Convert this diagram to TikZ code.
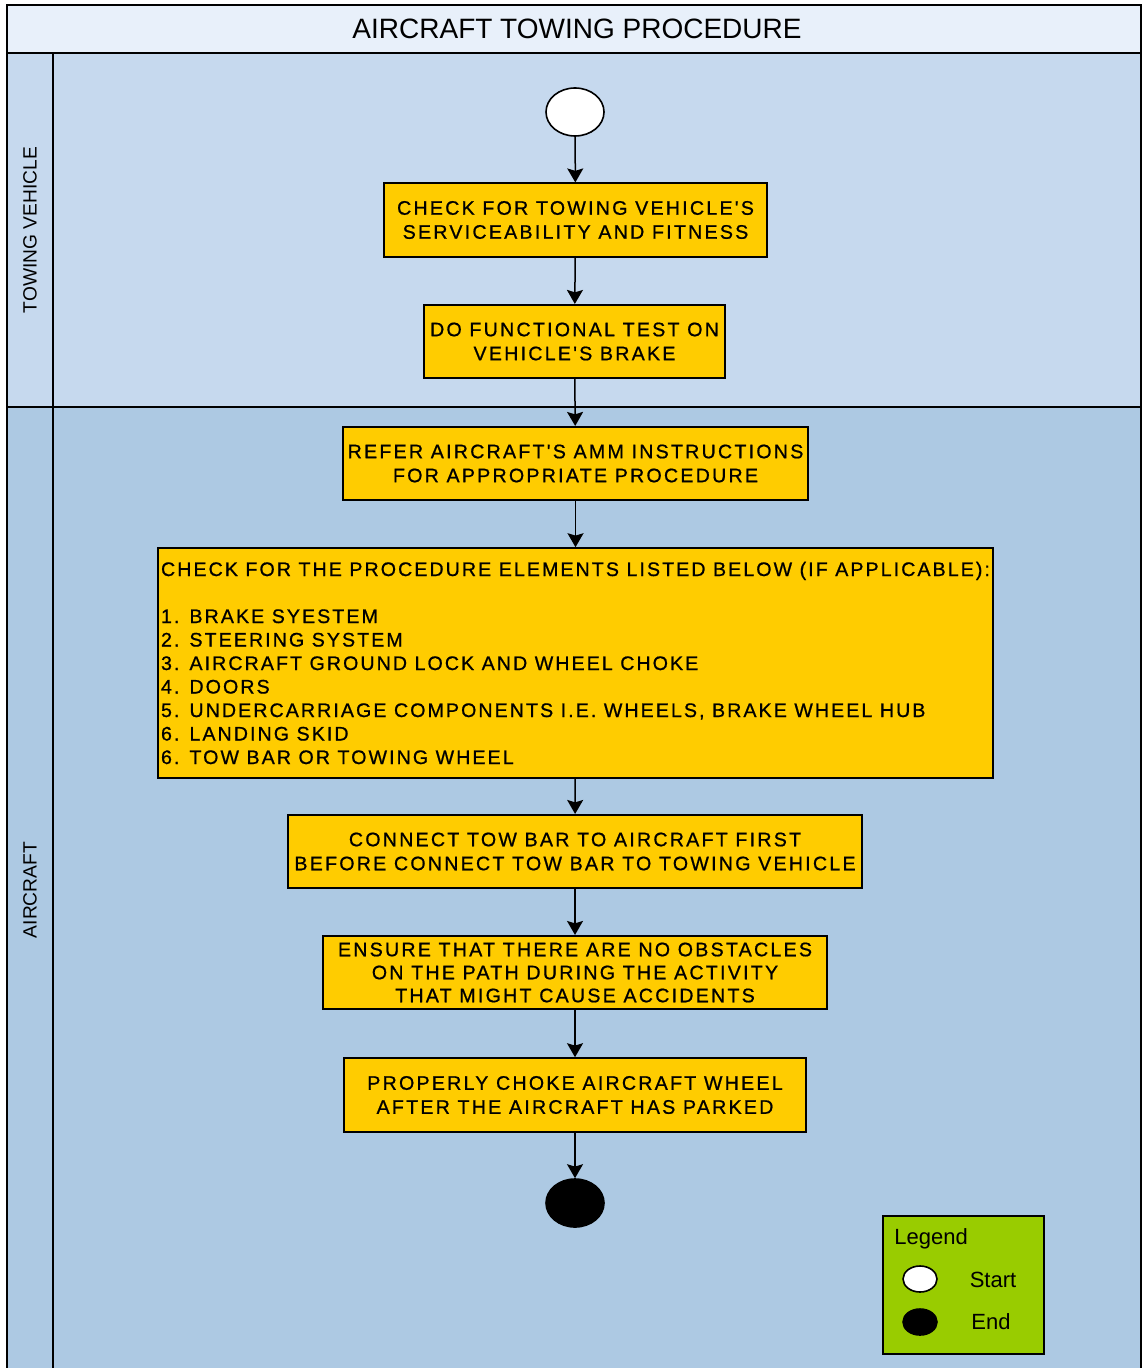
\documentclass[tikz,border=0pt]{standalone}
\usepackage{fontspec}
\setmainfont{Liberation Sans}
\newfontfamily\boxfont[LetterSpace=11.5,FakeBold=0.8]{Liberation Sans}
\newfontfamily\listfont[LetterSpace=10.6,FakeBold=0.8]{Liberation Sans}
\usetikzlibrary{arrows.meta,shapes.geometric}
\definecolor{titlebg}{HTML}{E8F0FA}
\definecolor{lanetop}{HTML}{C6D9EE}
\definecolor{lanebot}{HTML}{ADC9E3}
\definecolor{boxfill}{HTML}{FFCC00}
\definecolor{legendfill}{HTML}{99CC00}
\begin{document}
\begin{tikzpicture}[x=0.5pt,y=-0.5pt,
  frameline/.style={draw=black, line width=0.8pt},
  stepbox/.style={draw=black, line width=0.8pt, fill=boxfill,
    font=\boxfont\fontsize{9.8}{12}\selectfont, align=center,
    inner sep=0pt, minimum height=36.75pt},
  terminal/.style={ellipse, draw=black, line width=0.8pt,
    minimum width=29pt, minimum height=24pt, inner sep=0pt},
  legendmark/.style={ellipse, draw=black, line width=0.8pt,
    minimum width=17pt, minimum height=13pt, inner sep=0pt},
  flow/.style={-{Stealth[length=7pt,width=8pt,inset=1.2pt]}, line width=0.75pt},
  lanelabel/.style={rotate=90, font=\fontsize{9.6}{11}\selectfont},
  legendtext/.style={font=\fontsize{11}{13}\selectfont, inner sep=0pt},
]
\useasboundingbox (0,0) rectangle (1143,1368);

% pool background: title band and two swimlanes
\fill[white] (0,0) rectangle (1143,1368);
\fill[titlebg] (7,5) rectangle (1141,53);
\fill[lanetop] (7,53) rectangle (1141,407);
\fill[lanebot] (7,407) rectangle (1141,1368);
\draw[frameline] (7,1368) -- (7,5) -- (1141,5) -- (1141,1368);
\draw[frameline] (7,53) -- (1141,53);
\draw[frameline] (7,407) -- (1141,407);
\draw[frameline] (53,53) -- (53,1368);

\node[font=\fontsize{14}{16}\selectfont] (title) at (577,29) {AIRCRAFT TOWING PROCEDURE};
\node[lanelabel] (lanevehicle) at (30,230) {TOWING VEHICLE};
\node[lanelabel] (laneaircraft) at (30,890) {AIRCRAFT};

% activity flow
\node[terminal, fill=white] (start) at (575,112) {};
\node[stepbox, minimum width=191.5pt] (b1) at (575.5,220)
  {CHECK FOR TOWING VEHICLE'S\\SERVICEABILITY AND FITNESS};
\node[stepbox, minimum width=150.5pt] (b2) at (574.5,341.5)
  {DO FUNCTIONAL TEST ON\\VEHICLE'S BRAKE};
\node[stepbox, minimum width=232.5pt] (b3) at (575.5,463.5)
  {REFER AIRCRAFT'S AMM INSTRUCTIONS\\FOR APPROPRIATE PROCEDURE};
\node[stepbox, minimum width=417.5pt, minimum height=115pt, align=left,
  font=\listfont\fontsize{9.8}{11.75}\selectfont] (b4) at (575.5,663)
  {CHECK FOR THE PROCEDURE ELEMENTS LISTED BELOW (IF APPLICABLE):\\[11.75pt]
   1. BRAKE SYESTEM\\
   2. STEERING SYSTEM\\
   3. AIRCRAFT GROUND LOCK AND WHEEL CHOKE\\
   4. DOORS\\
   5. UNDERCARRIAGE COMPONENTS I.E. WHEELS, BRAKE WHEEL HUB\\
   6. LANDING SKID\\
   6. TOW BAR OR TOWING WHEEL};
\node[stepbox, minimum width=287pt] (b5) at (575,851.5)
  {CONNECT TOW BAR TO AIRCRAFT FIRST\\BEFORE CONNECT TOW BAR TO TOWING VEHICLE};
\node[stepbox, minimum width=252pt, font=\boxfont\fontsize{9.8}{11.5}\selectfont] (b6) at (575,972.5)
  {ENSURE THAT THERE ARE NO OBSTACLES\\ON THE PATH DURING THE ACTIVITY\\THAT MIGHT CAUSE ACCIDENTS};
\node[stepbox, minimum width=231pt, minimum height=37pt] (b7) at (575,1095)
  {PROPERLY CHOKE AIRCRAFT WHEEL\\AFTER THE AIRCRAFT HAS PARKED};
\node[terminal, fill=black] (finish) at (575,1203) {};

\draw[flow] (start) -- (b1);
\draw[flow] (b1) -- (b2);
\draw[flow] (b2) -- (b3);
\draw[flow] (b3) -- (b4);
\draw[flow] (b4) -- (b5);
\draw[flow] (b5) -- (b6);
\draw[flow] (b6) -- (b7);
\draw[flow] (b7) -- (finish);

% legend
\node[draw=black, line width=0.8pt, fill=legendfill, minimum width=80.5pt,
  minimum height=69pt, inner sep=0pt] (legend) at (963.5,1285) {};
\node[legendtext, anchor=west] (legendtitle) at (894,1239) {Legend};
\node[legendmark, fill=white] (keystart) at (920,1279) {};
\node[legendmark, fill=black] (keyend) at (920,1322) {};
\node[legendtext] (keystarttext) at (993,1280) {Start};
\node[legendtext] (keyendtext) at (991,1322) {End};
\end{tikzpicture}
\end{document}
